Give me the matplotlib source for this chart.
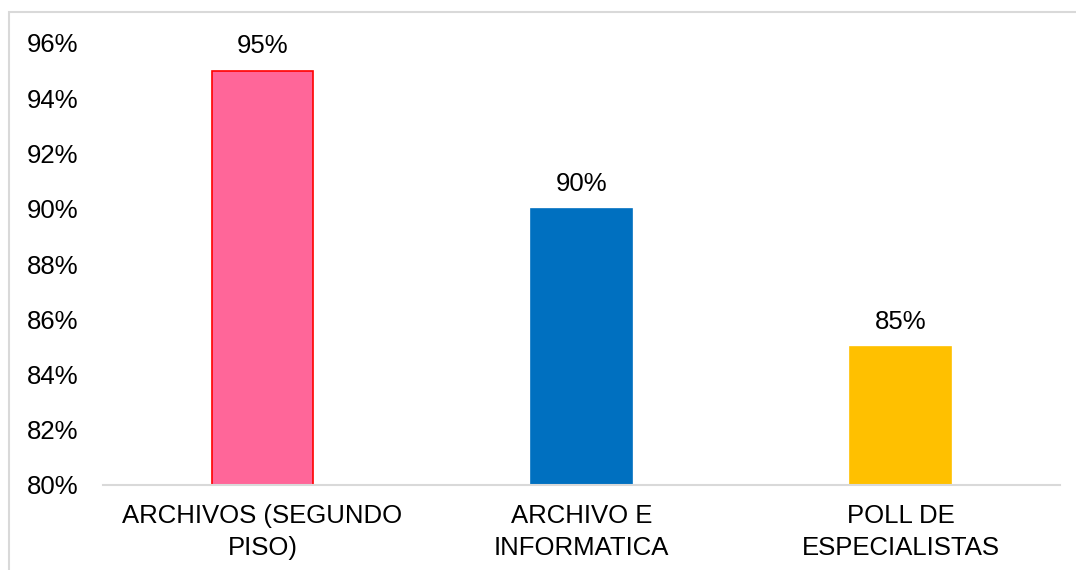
import matplotlib.pyplot as plt
from matplotlib.patches import Rectangle

plt.rcParams['font.family'] = ['Liberation Sans', 'DejaVu Sans']

categories = ["ARCHIVOS (SEGUNDO\nPISO)", "ARCHIVO E\nINFORMATICA", "POLL DE\nESPECIALISTAS"]
values = [95, 90, 85]
labels = ["95%", "90%", "85%"]
colors = ["#FF6699", "#0070C0", "#FFC000"]
edges = ["#FF0000", "#0070C0", "#FFC000"]
yticks = [80, 82, 84, 86, 88, 90, 92, 94, 96]

fig = plt.figure(figsize=(10.76, 5.70), dpi=100)
# outer chart frame (only top and left visible)
fig.patches.append(Rectangle((9 / 1076, -0.1), 1.2, 1 - 12 / 570 + 0.1,
                             transform=fig.transFigure, fill=False,
                             edgecolor="#D9D9D9", linewidth=1.5))

ax = fig.add_axes([103 / 1076, 1 - 485 / 570, (1060 - 103) / 1076, (485 - 43) / 570])
x = range(len(categories))
bars = ax.bar(x, values, width=0.315, color=colors, edgecolor=edges, linewidth=1.2)
ax.set_ylim(80, 96)
ax.set_xlim(-0.5, 2.5)
ax.set_yticks(yticks)
ax.set_yticklabels([f"{t}%" for t in yticks], fontsize=18.5)
ax.set_xticks(list(x))
ax.set_xticklabels(categories, fontsize=18.5, linespacing=1.4)
ax.tick_params(length=0)
ax.tick_params(axis='y', pad=18)
ax.tick_params(axis='x', pad=14)
for s in ["top", "right", "left"]:
    ax.spines[s].set_visible(False)
ax.spines["bottom"].set_color("#D9D9D9")
ax.spines["bottom"].set_linewidth(1.5)

for b, lab in zip(bars, labels):
    ax.annotate(lab, (b.get_x() + b.get_width() / 2, b.get_height()),
                xytext=(0, 9), textcoords="offset points",
                ha="center", va="bottom", fontsize=18.5)

fig.savefig("out.png", dpi=100)
